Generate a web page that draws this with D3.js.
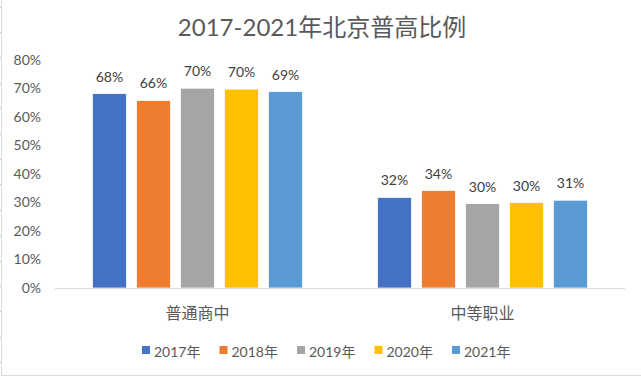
<!DOCTYPE html>
<html><head><meta charset="utf-8">
<script src="https://cdn.jsdelivr.net/npm/d3@7"></script>
<style>
html,body{margin:0;padding:0;background:#fff;}
svg{display:block;font-family:Lato,"Noto Sans CJK SC",sans-serif;}
</style></head>
<body><svg id="c" width="641" height="379"></svg>
<script>
const title = "2017-2021年北京普高比例";
const categories = ["普通商中", "中等职业"];
const seriesNames = ["2017年", "2018年", "2019年", "2020年", "2021年"];
const s2017 = [68.2, 31.8];
const s2018 = [65.8, 34.2];
const s2019 = [70.1, 29.6];
const s2020 = [69.8, 30.0];
const s2021 = [68.9, 30.8];
const labels2017 = ["68%", "32%"];
const labels2018 = ["66%", "34%"];
const labels2019 = ["70%", "30%"];
const labels2020 = ["70%", "30%"];
const labels2021 = ["69%", "31%"];
const yTicks = [0, 10, 20, 30, 40, 50, 60, 70, 80];
const colors = ["#4472C4", "#ED7D31", "#A5A5A5", "#FFC000", "#5B9BD5"];

const series = [s2017, s2018, s2019, s2020, s2021];
const labelSets = [labels2017, labels2018, labels2019, labels2020, labels2021];

const svg = d3.select("#c");
const plot = {left: 55, right: 625, top: 60, bottom: 288};

// frame
svg.append("line").attr("x1", 1.5).attr("x2", 1.5).attr("y1", 0).attr("y2", 376).attr("stroke", "#d9d9d9");
svg.append("line").attr("x1", 1).attr("x2", 641).attr("y1", 375.5).attr("y2", 375.5).attr("stroke", "#d9d9d9");
d3.range(6.5, 370, 25.4).forEach(y => {
  svg.append("line").attr("x1", 0).attr("x2", 1).attr("y1", Math.round(y) + 0.5).attr("y2", Math.round(y) + 0.5).attr("stroke", "#c8c8c8");
});

const x0 = d3.scaleBand().domain(categories).range([plot.left, plot.right]).paddingInner(0).paddingOuter(0);
const x1 = d3.scaleBand().domain(d3.range(5)).range([0, x0.bandwidth()]).paddingInner(0.227).paddingOuter(0.852);
const y = d3.scaleLinear().domain([0, 80]).range([plot.bottom, plot.top]);

// title
svg.append("text").attr("x", 322).attr("y", 36).attr("text-anchor", "middle")
  .attr("font-size", 24).attr("fill", "#595959").text(title);

// y axis labels
const yAxis = d3.axisLeft(y).tickValues(yTicks).tickFormat(d => d + "%").tickSize(0).tickPadding(0);
const ga = svg.append("g").attr("transform", "translate(41,0)").call(yAxis);
ga.select(".domain").remove();
ga.selectAll("text").attr("font-size", 14).attr("fill", "#595959").attr("font-family", "Lato,sans-serif");

// bars
categories.forEach((c, ci) => {
  series.forEach((s, si) => {
    const bx = x0(c) + x1(si);
    svg.append("rect").attr("x", bx).attr("y", y(s[ci])).attr("width", x1.bandwidth())
      .attr("height", y(0) - y(s[ci])).attr("fill", colors[si])
      .attr("stroke", "#fff").attr("stroke-width", 0.75);
    svg.append("text").attr("x", bx + x1.bandwidth() / 2).attr("y", y(s[ci]) - 12)
      .attr("text-anchor", "middle").attr("font-size", 14).attr("fill", "#404040")
      .text(labelSets[si][ci]);
  });
});

// baseline
svg.append("line").attr("x1", plot.left).attr("x2", plot.right).attr("y1", y(0) + 0.5).attr("y2", y(0) + 0.5)
  .attr("stroke", "#d9d9d9").attr("stroke-width", 1);

// category labels
const xAxis = d3.axisBottom(x0).tickSize(0).tickPadding(0);
const gx = svg.append("g").attr("transform", `translate(0,${plot.bottom})`).call(xAxis);
gx.select(".domain").remove();
gx.selectAll("text").attr("dy", null).attr("y", 31).attr("font-size", 16).attr("fill", "#595959").attr("font-family", "\"Noto Sans CJK SC\",sans-serif");

// legend
const legX = d3.scalePoint().domain(seriesNames).range([142, 452]);
seriesNames.forEach((n, i) => {
  const lx = legX(n);
  svg.append("rect").attr("x", lx).attr("y", 346).attr("width", 8).attr("height", 8).attr("fill", colors[i]);
  svg.append("text").attr("x", lx + 12).attr("y", 357).attr("font-size", 14).attr("fill", "#595959").text(n);
});
</script></body></html>
